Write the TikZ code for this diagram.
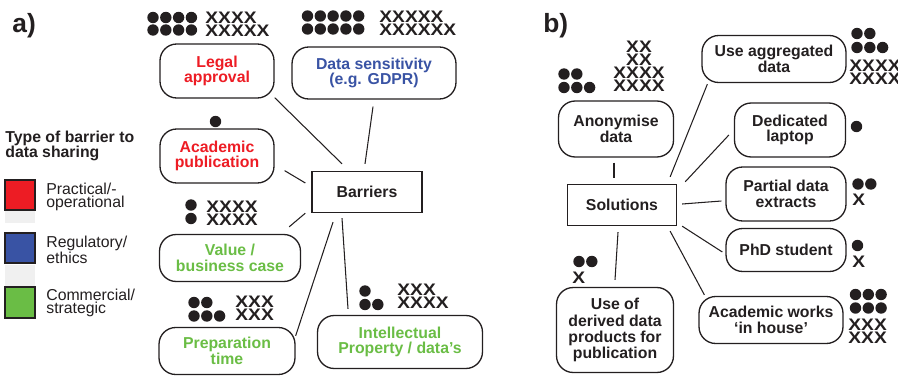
\documentclass[tikz,border=0pt]{standalone}
\usepackage{fontspec}
\setmainfont{Liberation Sans}
\usetikzlibrary{calc}

\definecolor{practical}{RGB}{237,28,36}
\definecolor{regulatory}{RGB}{57,83,164}
\definecolor{commercial}{RGB}{106,189,69}
\definecolor{ink}{RGB}{35,31,32}

% dots above the boxes
\newcommand\dotrow[3]{\foreach \k in {1,...,#3} \fill[ink] ({#1+(\k-1)*12.8},#2) circle (5.7);}

\tikzset{
  box/.style={draw=ink, line width=0.75pt, rounded corners=9.5pt, inner sep=0pt, align=center,
    font=\fontsize{9}{8.8}\selectfont\bfseries},
  hub/.style={draw=ink, line width=0.75pt, inner sep=0pt, minimum width=2.2cm, minimum height=0.82cm,
    text=ink, font=\fontsize{9}{10}\selectfont\bfseries},
  link/.style={draw=ink, line width=0.6pt},
  xs/.style={anchor=north west, align=left, xscale=1.15, inner sep=0pt, text=ink,
    font=\fontsize{9.5}{7.4}\selectfont\bfseries},
  key/.style={draw=ink, line width=0.8pt},
  keytext/.style={anchor=west, inner sep=0pt, align=left, text=ink, font=\fontsize{9}{7.5}\selectfont},
  panel/.style={anchor=base west, inner sep=0pt, text=ink, font=\fontsize{15}{15}\selectfont\bfseries}
}

\begin{document}
\begin{tikzpicture}[x=0.02cm, y=-0.02cm]
\useasboundingbox (0,0) rectangle (898,379);

%% a) barriers
\node[panel] (pa) at (12,32) {a)};

\node[box, text=practical, minimum width=2.28cm, minimum height=1.08cm] (legal) at (217,71) {Legal\\approval};
\node[box, text=regulatory, minimum width=3.28cm, minimum height=1.04cm] (sens) at (374,73) {Data sensitivity\\(e.g. GDPR)};
\node[box, text=practical, minimum width=2.28cm, minimum height=1.08cm] (acad) at (217,156) {Academic\\publication};
\node[box, text=commercial, minimum width=2.82cm, minimum height=0.94cm] (value) at (230,258) {Value /\\business case};
\node[box, text=commercial, minimum width=2.72cm, minimum height=0.94cm] (prep) at (227,351) {Preparation\\time};
\node[box, text=commercial, minimum width=3.3cm, minimum height=1.06cm] (ip) at (400,342) {Intellectual\\Property / data’s};
\node[hub] (barr) at (367,192) {Barriers};

\draw[link] ($(legal.south east)+(0,-1)$) -- ($(barr.north)+(-25,-7)$);
\draw[link] ($(sens.south)+(-1,7)$) -- ($(barr.north)+(-2,-7)$);
\draw[link] ($(acad.south east)+(10,-13)$) -- ($(barr.west)+(-6,-9)$);
\draw[link] ($(value.north east)+(-12,-7)$) -- ($(barr.south west)+(-6,0)$);
\draw[link] ($(prep.north east)+(0,9)$) -- ($(barr.south)+(-34,9)$);
\draw[link] ($(ip.north)+(-52,-6)$) -- ($(barr.south)+(-25,5)$);

\dotrow{153}{17.5}{4} \dotrow{153}{30}{4}
\node[xs] (xlegal) at (205,12) {XXXX\\XXXXX};
\dotrow{307.5}{16}{5} \dotrow{307.5}{29}{5}
\node[xs] (xsens) at (379,11) {XXXXX\\XXXXXX};
\dotrow{215.5}{121.5}{1}
\dotrow{191}{205}{1} \dotrow{191}{218.5}{1}
\node[xs] (xvalue) at (206,201) {XXXX\\XXXX};
\dotrow{194}{302.5}{2} \dotrow{194}{316}{3}
\node[xs] (xprep) at (235,296) {XXX\\XXX};
\dotrow{365}{291}{1} \dotrow{365}{304.5}{2}
\node[xs] (xip) at (397,284) {XXX\\XXXX};

% legend
\node[anchor=west, inner sep=0pt, align=left, text=ink, font=\fontsize{9}{8.8}\selectfont\bfseries] (keyhead) at (5,146) {Type of barrier to\\data sharing};
\draw[key, fill=practical] (5,180) rectangle (35,210);
\fill[black!6] (5,211) rectangle (35,223);
\draw[key, fill=regulatory] (5,233) rectangle (35,263);
\fill[black!6] (5,265) rectangle (35,286);
\draw[key, fill=commercial] (5,287) rectangle (35,318);
\node[keytext] (k1) at (46,197) {Practical/-\\operational};
\node[keytext] (k2) at (46,250) {Regulatory/\\ethics};
\node[keytext] (k3) at (46,303) {Commercial/\\strategic};

%% b) solutions
\node[panel] (pb) at (543,32) {b)};

\node[box, text=ink, minimum width=2.3cm, minimum height=1.12cm] (anon) at (616,129) {Anonymise\\data};
\node[box, text=ink, minimum width=2.88cm, minimum height=0.94cm] (aggr) at (774,59) {Use aggregated\\data};
\node[box, text=ink, minimum width=2.22cm, minimum height=1.08cm] (laptop) at (790,130) {Dedicated\\laptop};
\node[box, text=ink, minimum width=2.4cm, minimum height=1.08cm] (partial) at (786,194) {Partial data\\extracts};
\node[box, text=ink, minimum width=2.4cm, minimum height=0.86cm] (phd) at (786,250) {PhD student};
\node[box, text=ink, minimum width=2.88cm, minimum height=0.94cm] (works) at (771,320) {Academic works\\‘in house’};
\node[box, text=ink, minimum width=2.34cm, minimum height=1.7cm, font=\fontsize{9}{9.2}\selectfont\bfseries] (derived) at (615,330) {Use of\\derived data\\products for\\publication};
\node[hub, minimum width=2.18cm] (sol) at (622,205) {Solutions};

\draw[link] ($(anon.south)+(-2,5)$) -- ($(sol.north)+(-8,-6)$);
\draw[link] ($(sol.north east)+(-7,-7)$) -- ($(aggr.south west)+(6,1)$);
\draw[link] ($(sol.north east)+(8,-2)$) -- ($(laptop.west)+(-5,5)$);
\draw[link] ($(sol.east)+(5,-1)$) -- ($(partial.west)+(-4,7)$);
\draw[link] ($(sol.south east)+(5,0)$) -- ($(phd.west)+(-3,2)$);
\draw[link] ($(sol.south east)+(-7,5)$) -- ($(works.north west)+(6,-1)$);
\draw[link] ($(sol.south)+(-4,6)$) -- ($(derived.north)+(0,-7)$);

\dotrow{564}{74}{2} \dotrow{564}{87.5}{3}
\node[xs, anchor=north, align=center] (xanon) at (639,41) {XX\\XX\\XXXX\\XXXX};
\dotrow{857}{33.5}{2} \dotrow{857}{47.5}{3}
\node[xs] (xaggr) at (849,60) {XXXX\\XXXX};
\dotrow{856.5}{126.5}{1}
\dotrow{858}{184}{2}
\node[xs] (xpartial) at (852,194) {X};
\dotrow{857.5}{245.5}{1}
\node[xs] (xphd) at (852,256) {X};
\dotrow{855.5}{294.5}{3} \dotrow{855.5}{308}{3}
\node[xs] (xworks) at (848,319) {XXX\\XXX};
\dotrow{579}{261.5}{2}
\node[xs] (xderived) at (572,272) {X};
\end{tikzpicture}
\end{document}
